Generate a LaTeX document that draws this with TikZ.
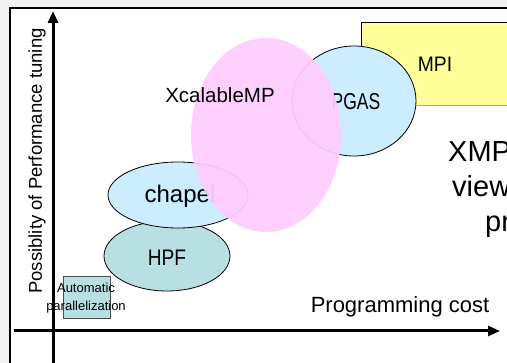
\documentclass[tikz,border=0pt]{standalone}
\usepackage{fontspec}
\setmainfont{Liberation Sans}
\usetikzlibrary{shapes.geometric,arrows.meta}
\definecolor{lblue}{HTML}{CCECFF}
\definecolor{hpfteal}{HTML}{B8DFE1}
\definecolor{xmppink}{HTML}{FFCCFF}
\definecolor{mpiyellow}{HTML}{FFFF99}
\definecolor{outbg}{HTML}{F2F2F2}
\tikzset{
  blob/.style={ellipse, draw=black, line width=0.8pt, inner sep=0pt},
  axisline/.style={line width=3pt, -{Triangle[length=12pt,width=10pt]}},
  lbl/.style={inner sep=0pt, text=black},
}
\begin{document}
\begin{tikzpicture}[x=1pt,y=-1pt]
\useasboundingbox (0,0) rectangle (507,363);
\fill[outbg] (0,0) rectangle (507,363);
\fill[white] (10,8) rectangle (507,363);
\draw[line width=2pt] (10,363) -- (10,8) -- (507,8);
% MPI
\node[draw=black, line width=0.8pt, fill=mpiyellow, minimum width=170, minimum height=83, anchor=north west, inner sep=0pt] (mpi) at (361,22.5) {};
\draw[gray!70, line width=1pt] (362,106) -- (507,106);
\node[lbl, font=\fontsize{21}{24}\selectfont] (mpit) at (435,64) {\scalebox{0.92}[1]{MPI}};
% PGAS
\node[blob, fill=lblue, minimum width=124, minimum height=110] (pgas) at (354,101) {};
\node[lbl, font=\fontsize{23}{26}\selectfont] (pgast) at (356,102) {\scalebox{0.76}[1]{PGAS}};
% HPF
\node[blob, fill=hpfteal, minimum width=126, minimum height=70] (hpf) at (167,256) {};
\node[lbl, font=\fontsize{22.5}{26}\selectfont] (hpft) at (167,258) {\scalebox{0.85}[1]{HPF}};
% chapel
\node[blob, fill=lblue, minimum width=140, minimum height=66] (chapel) at (178,195) {};
\node[lbl, font=\fontsize{24}{28}\selectfont] (chapelt) at (180,196) {chapel};
% XcalableMP ellipse
\node[ellipse, fill=xmppink, fill opacity=0.94, minimum width=150, minimum height=194, inner sep=0pt] (xmp) at (266,135) {};
\node[lbl, font=\fontsize{20.5}{24}\selectfont] (xmpt) at (220,95) {XcalableMP};
% Automatic parallelization
\node[draw=black!70, line width=0.8pt, fill=hpfteal, minimum width=47, minimum height=42, anchor=north west, inner sep=0pt] (auto) at (62.5,276) {};
\node[lbl, align=center, font=\fontsize{13}{18}\selectfont] (autot) at (86,298) {Automatic\\parallelization};
% right-hand text (cut off by the picture edge, as in the reference)
\node[lbl, anchor=base west, font=\fontsize{29}{34}\selectfont] (r1) at (448,162) {XMP};
\node[lbl, anchor=base west, font=\fontsize{29}{34}\selectfont] (r2) at (452,197) {view};
\node[lbl, anchor=base west, font=\fontsize{29}{34}\selectfont] (r3) at (485,232) {pr};
% axes
\coordinate (ybot) at (53,366);
\coordinate (ytop) at (53,11);
\coordinate (xleft) at (14,331);
\coordinate (xright) at (500,331);
\draw[axisline] (ybot) -- (ytop);
\draw[axisline] (xleft) -- (xright);
\node[lbl, rotate=90, font=\fontsize{18.5}{22}\selectfont] (ylab) at (37,161) {Possiblity of Performance tuning};
\node[lbl, font=\fontsize{22}{26}\selectfont] (xlab) at (400,307) {Programming cost};
\end{tikzpicture}
\end{document}
